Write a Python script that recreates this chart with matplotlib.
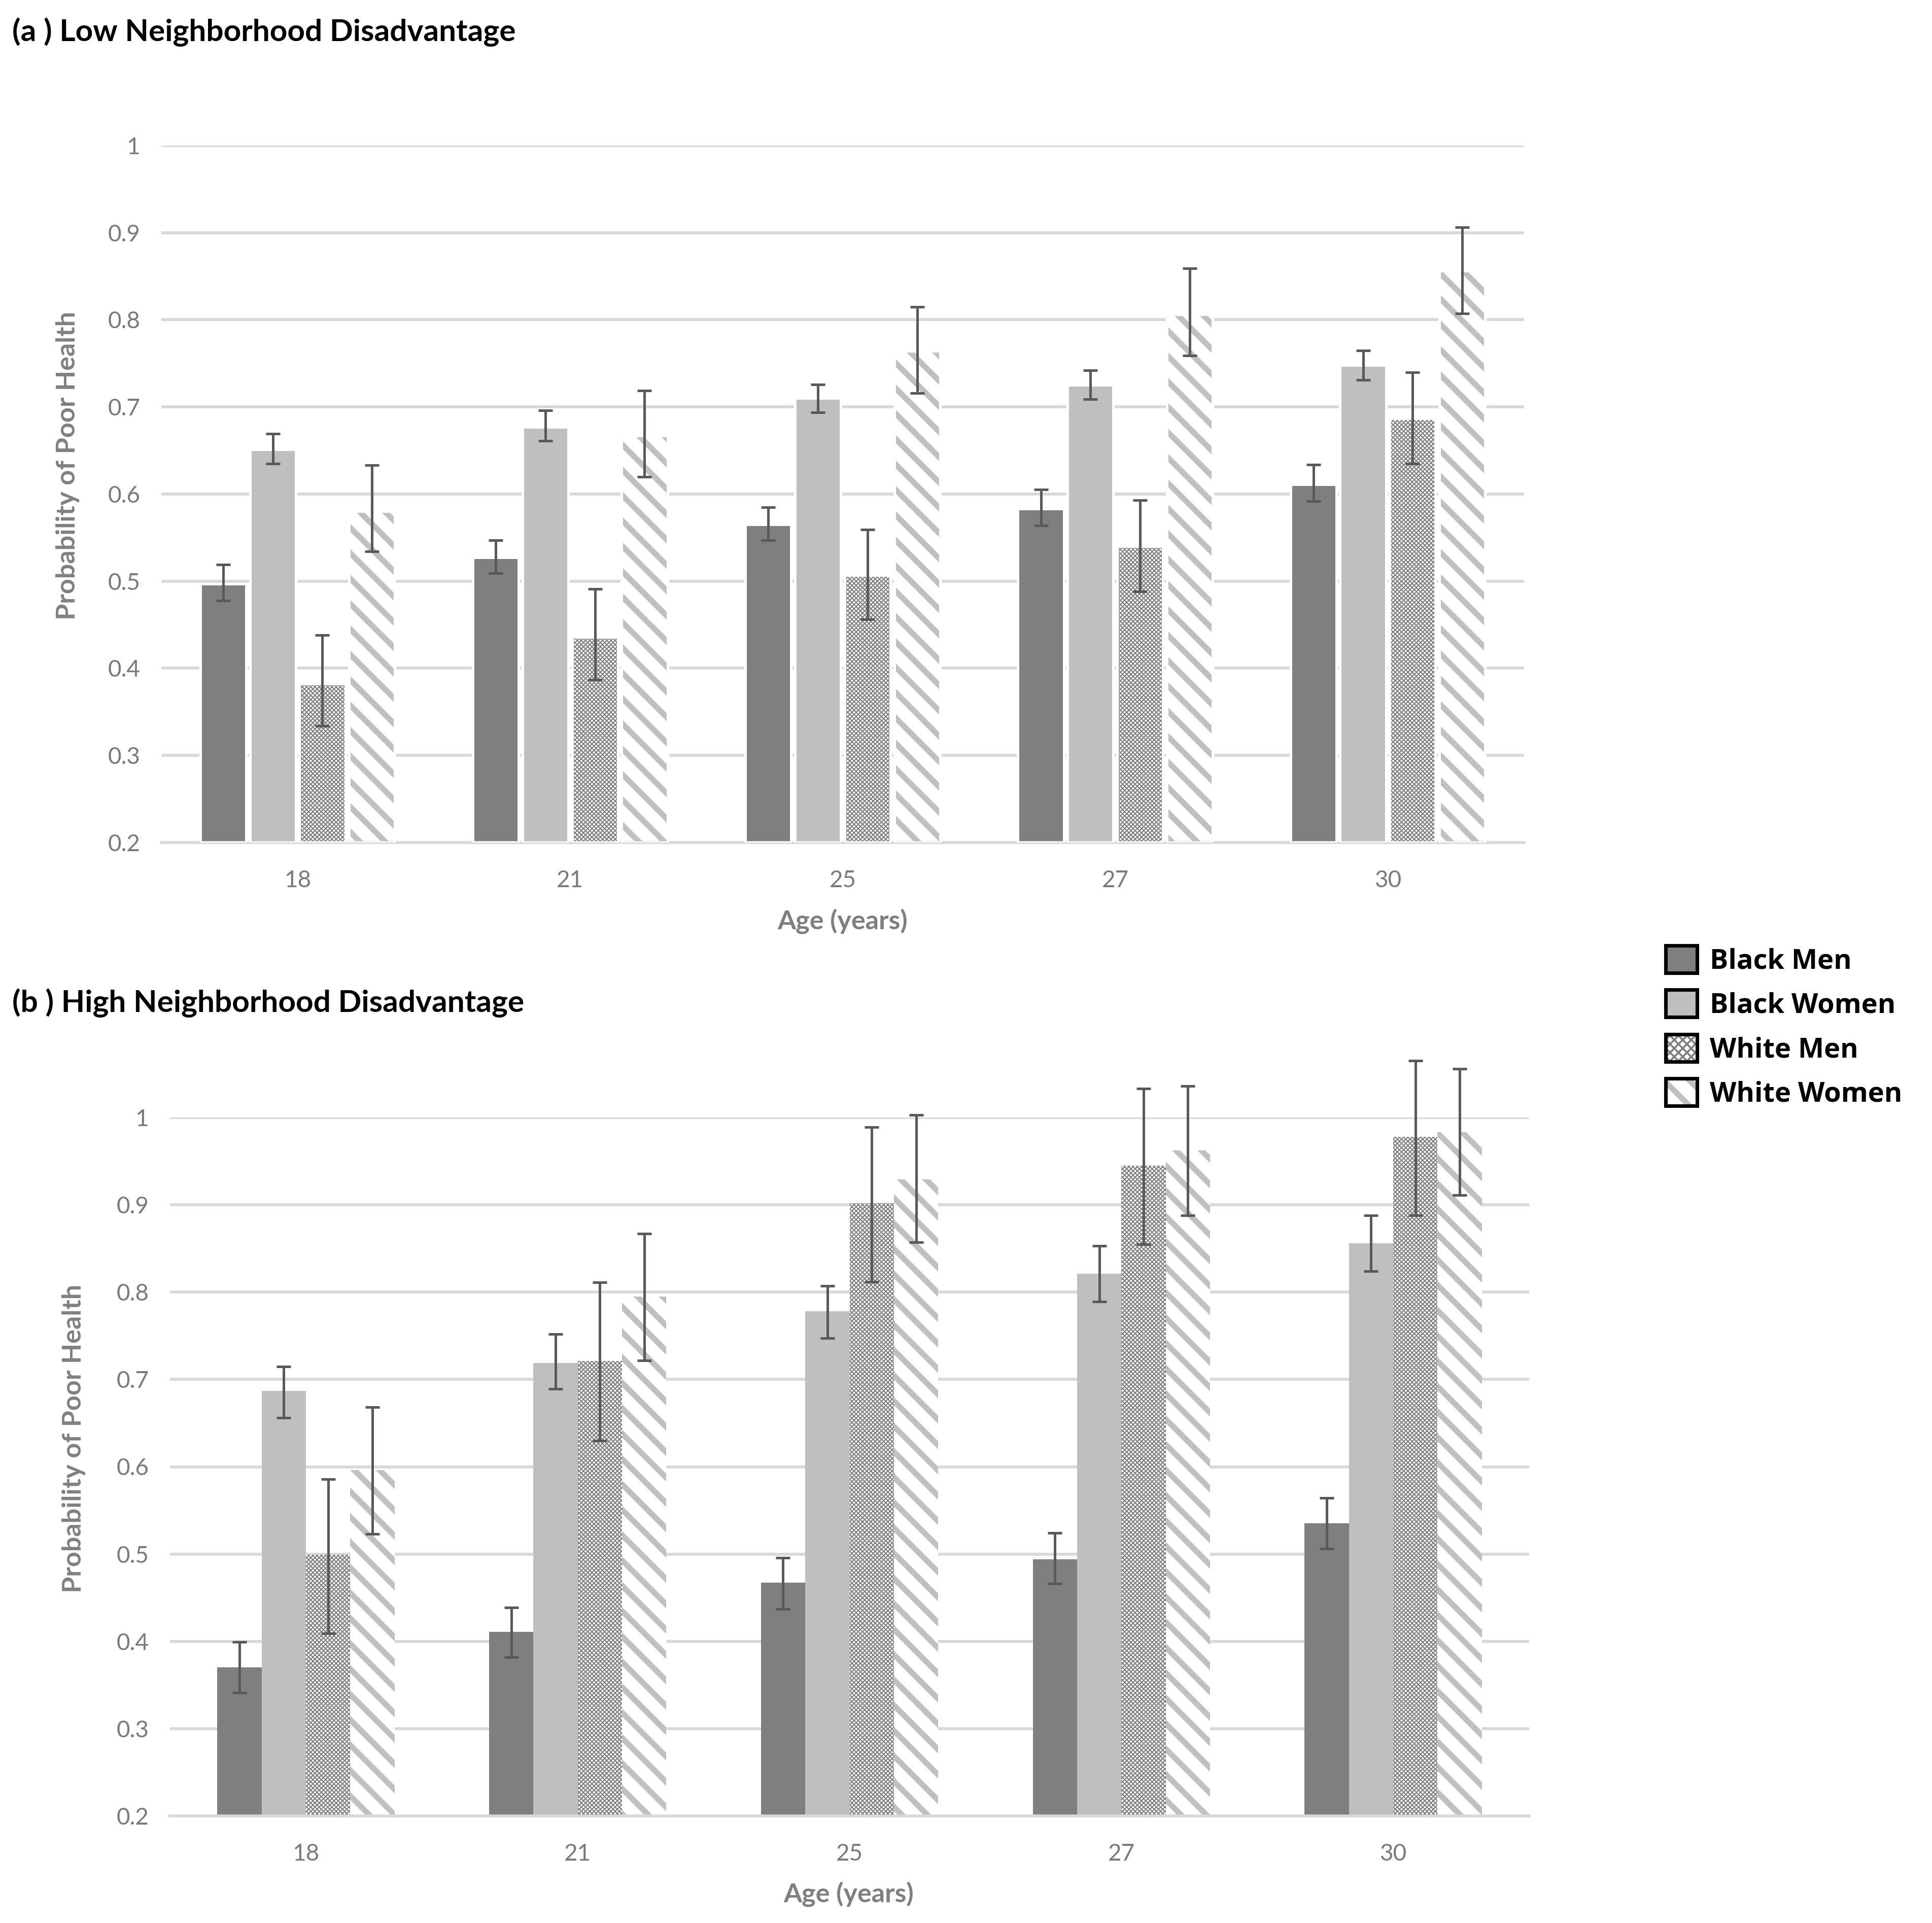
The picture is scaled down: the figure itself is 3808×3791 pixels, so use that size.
import matplotlib
matplotlib.use('Agg')
import matplotlib.pyplot as plt
from matplotlib.patches import Rectangle
from matplotlib.legend_handler import HandlerTuple

# ages on the x axis
ages = ['18', '21', '25', '27', '30']
groups = ['Black Men', 'Black Women', 'White Men', 'White Women']

# (a) low neighborhood disadvantage: estimate, lower and upper CI
low_bm = [0.497, 0.527, 0.565, 0.583, 0.611]
low_bm_lo = [0.478, 0.509, 0.547, 0.564, 0.592]
low_bm_hi = [0.519, 0.547, 0.585, 0.605, 0.634]
low_bw = [0.651, 0.677, 0.710, 0.725, 0.748]
low_bw_lo = [0.635, 0.661, 0.694, 0.709, 0.731]
low_bw_hi = [0.669, 0.696, 0.726, 0.742, 0.765]
low_wm = [0.382, 0.436, 0.507, 0.540, 0.687]
low_wm_lo = [0.334, 0.387, 0.456, 0.488, 0.635]
low_wm_hi = [0.438, 0.491, 0.559, 0.593, 0.740]
low_ww = [0.580, 0.667, 0.764, 0.806, 0.856]
low_ww_lo = [0.534, 0.620, 0.716, 0.759, 0.807]
low_ww_hi = [0.633, 0.719, 0.815, 0.859, 0.906]

# (b) high neighborhood disadvantage
high_bm = [0.370, 0.411, 0.467, 0.494, 0.535]
high_bm_lo = [0.341, 0.382, 0.437, 0.466, 0.506]
high_bm_hi = [0.399, 0.439, 0.496, 0.524, 0.564]
high_bw = [0.687, 0.719, 0.778, 0.821, 0.856]
high_bw_lo = [0.656, 0.689, 0.747, 0.789, 0.824]
high_bw_hi = [0.715, 0.752, 0.807, 0.853, 0.888]
high_wm = [0.499, 0.721, 0.902, 0.945, 0.978]
high_wm_lo = [0.409, 0.630, 0.812, 0.855, 0.888]
high_wm_hi = [0.586, 0.811, 0.989, 1.033, 1.065]
high_ww = [0.596, 0.795, 0.929, 0.962, 0.983]
high_ww_lo = [0.523, 0.722, 0.857, 0.888, 0.911]
high_ww_hi = [0.668, 0.867, 1.003, 1.036, 1.056]

yticks = [0.2, 0.3, 0.4, 0.5, 0.6, 0.7, 0.8, 0.9, 1.0]
ytick_labels = ['0.2', '0.3', '0.4', '0.5', '0.6', '0.7', '0.8', '0.9', '1']

FONT = ['Lato', 'DejaVu Sans']
plt.rcParams['font.family'] = FONT

# fill, hatch, hatch colour, hatch width per group
styles = [
    ('#7f7f7f', '', '#7f7f7f', 0.6),
    ('#bfbfbf', '', '#bfbfbf', 0.6),
    ('white', 'x' * 12, '#7f7f7f', 0.5),
    ('white', '\\\\', '#c0c0c0', 2.7),
]

W, H, DPI = 3808, 3791, 300
fig = plt.figure(figsize=(W / DPI, H / DPI), dpi=DPI)


def make_bar(ax, x, y, width, style, white_edge):
    face, hatch, hcol, hlw = style
    with plt.rc_context({'hatch.linewidth': hlw}):
        bars = ax.bar(x, [v - 0.2 for v in y], width, bottom=0.2,
                      color=face, hatch=hatch if hatch else None,
                      edgecolor=hcol, linewidth=0, zorder=2)
        for b in bars:
            if hasattr(b, 'set_hatch_linewidth'):
                b.set_hatch_linewidth(hlw)
    if white_edge:
        ax.bar(x, [v - 0.2 for v in y], width, bottom=0.2, fill=False,
               edgecolor='white', linewidth=1.2, zorder=3)


def draw_panel(rect, series, slot, bar_w, white_edge):
    ax = fig.add_axes(rect)
    xs = list(range(len(ages)))
    for i, (est, lo, hi) in enumerate(series):
        off = [x + (i - 1.5) * slot for x in xs]
        make_bar(ax, off, est, bar_w, styles[i], white_edge)
        ax.errorbar(off, est, yerr=[[e - l for e, l in zip(est, lo)],
                                     [h - e for e, h in zip(est, hi)]],
                    fmt='none', ecolor='#595959', elinewidth=1.2,
                    capsize=3.3, capthick=1.2, zorder=4, clip_on=False)
    ax.set_xlim(-0.5, len(ages) - 0.5)
    ax.set_ylim(0.2, 1.0)
    ax.set_yticks(yticks)
    ax.set_yticklabels(ytick_labels)
    ax.set_xticks(xs)
    ax.set_xticklabels(ages)
    ax.grid(axis='y', color='#d9d9d9', linewidth=1.4, zorder=0)
    ax.set_axisbelow(True)
    for s in ['top', 'right', 'left']:
        ax.spines[s].set_visible(False)
    ax.spines['bottom'].set_color('#d9d9d9')
    ax.spines['bottom'].set_linewidth(1.4)
    ax.tick_params(axis='both', length=0, labelsize=11, labelcolor='#7a7a7a')
    ax.tick_params(axis='y', pad=10)
    ax.tick_params(axis='x', pad=13)
    return ax


def fx(px):
    return px / W


def fy(py):
    return 1 - py / H


low_series = [(low_bm, low_bm_lo, low_bm_hi), (low_bw, low_bw_lo, low_bw_hi),
              (low_wm, low_wm_lo, low_wm_hi), (low_ww, low_ww_lo, low_ww_hi)]
high_series = [(high_bm, high_bm_lo, high_bm_hi), (high_bw, high_bw_lo, high_bw_hi),
               (high_wm, high_wm_lo, high_wm_hi), (high_ww, high_ww_lo, high_ww_hi)]

# panel (a)
draw_panel([fx(318), fy(1661), fx(3004 - 318), (1661 - 287) / H],
           low_series, 0.182, 0.168, True)
# panel (b)
draw_panel([fx(335), fy(3580), fx(3014 - 335), (3580 - 2203) / H],
           high_series, 0.163, 0.163, False)

fig.text(fx(24), fy(63), '(a ) Low Neighborhood Disadvantage', fontsize=14.5,
         fontweight='bold', ha='left', va='center')
fig.text(fx(24), fy(1977), '(b ) High Neighborhood Disadvantage', fontsize=14.5,
         fontweight='bold', ha='left', va='center')

for (x, y) in [(134, 918), (146, 2836)]:
    fig.text(fx(x), fy(y), 'Probability of Poor Health', rotation=90,
             fontsize=12.5, fontweight='bold', color='#808080',
             ha='center', va='center')
for (x, y) in [(1661, 1817), (1673, 3735)]:
    fig.text(fx(x), fy(y), 'Age (years)', fontsize=12.5, fontweight='bold',
             color='#7f7f7f', ha='center', va='center')

# legend: hatched square plus black frame drawn on top
handles = []
for face, hatch, hcol, hlw in styles:
    if hatch.startswith('x'):
        hatch = 'x' * 6
    p = Rectangle((0, 0), 1, 1, facecolor=face, hatch=hatch if hatch else None,
                  edgecolor=hcol, linewidth=0)
    frame = Rectangle((0, 0), 1, 1, fill=False, edgecolor='black', linewidth=1.7)
    handles.append((p, frame))

leg = fig.legend(handles, groups, handler_map={tuple: HandlerTuple(ndivide=1)},
                 loc='upper left', bbox_to_anchor=(fx(3283), fy(1864)),
                 frameon=False, borderpad=0, borderaxespad=0,
                 handlelength=1.15, handleheight=1.15, handletextpad=0.45,
                 labelspacing=0.54,
                 prop={'family': ['Open Sans', 'DejaVu Sans'], 'weight': 'bold', 'size': 13})

# the legend copies of the patches need their hatch widths set again
for r in leg.findobj(match=Rectangle):
    h = r.get_hatch()
    if not h or not hasattr(r, 'set_hatch_linewidth'):
        continue
    r.set_hatch_linewidth(0.9 if h.startswith('x') else 2.7)

fig.savefig('out.png', dpi=DPI, facecolor='white')
